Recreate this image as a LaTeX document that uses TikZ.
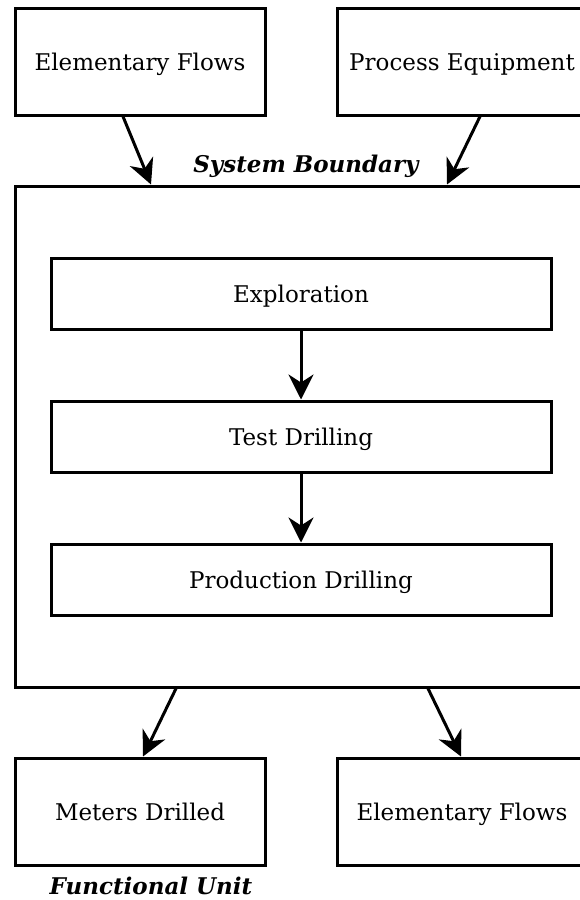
\documentclass[tikz,border=0pt]{standalone}
\usepackage{fontspec}
\setmainfont{DejaVu Serif}
\usetikzlibrary{arrows.meta}
\begin{document}
\begin{tikzpicture}[x=1pt,y=-1pt,
  box/.style={draw,line width=3pt,rectangle,inner sep=0pt,text height=17pt,text depth=0pt,font=\fontsize{23}{27}\selectfont},
  arr/.style={line width=3pt,-{Stealth[length=25pt,width=25pt,inset=8pt]}},
  lbl/.style={inner sep=0pt,text height=17pt,text depth=0pt,font=\fontsize{23}{27}\selectfont\bfseries\itshape}]
\useasboundingbox (0,0) rectangle (580,900);
\clip (0,0) rectangle (580,900);
\node[box,minimum width=250pt,minimum height=107pt] (ef1) at (140,61.5) {Elementary Flows};
\node[box,minimum width=250pt,minimum height=107pt] (pe) at (462,61.5) {Process Equipment};
\node[box,minimum width=572pt,minimum height=501pt] (sb) at (301,436.5) {};
\node[lbl] (sbl) at (306,164) {System Boundary};
\node[box,minimum width=500pt,minimum height=71pt] (ex) at (301,293.5) {Exploration};
\node[box,minimum width=500pt,minimum height=71pt] (td) at (301,436.5) {Test Drilling};
\node[box,minimum width=500pt,minimum height=71pt] (pd) at (301,579.5) {Production Drilling};
\node[box,minimum width=250pt,minimum height=107pt] (md) at (140,811.5) {Meters Drilled};
\node[box,minimum width=250pt,minimum height=107pt] (ef2) at (462,811.5) {Elementary Flows};
\node[lbl] (fu) at (151,886) {Functional Unit};
\draw[arr] ([xshift=-17pt]ef1.south) -- ([xshift=-150pt]sb.north);
\draw[arr] ([xshift=18pt]pe.south) -- ([xshift=146pt]sb.north);
\draw[arr] (ex) -- (td);
\draw[arr] (td) -- (pd);
\draw[arr] ([xshift=-125pt]sb.south) -- ([xshift=3pt]md.north);
\draw[arr] ([xshift=127pt]sb.south) -- ([xshift=-1pt]ef2.north);
\end{tikzpicture}
\end{document}
